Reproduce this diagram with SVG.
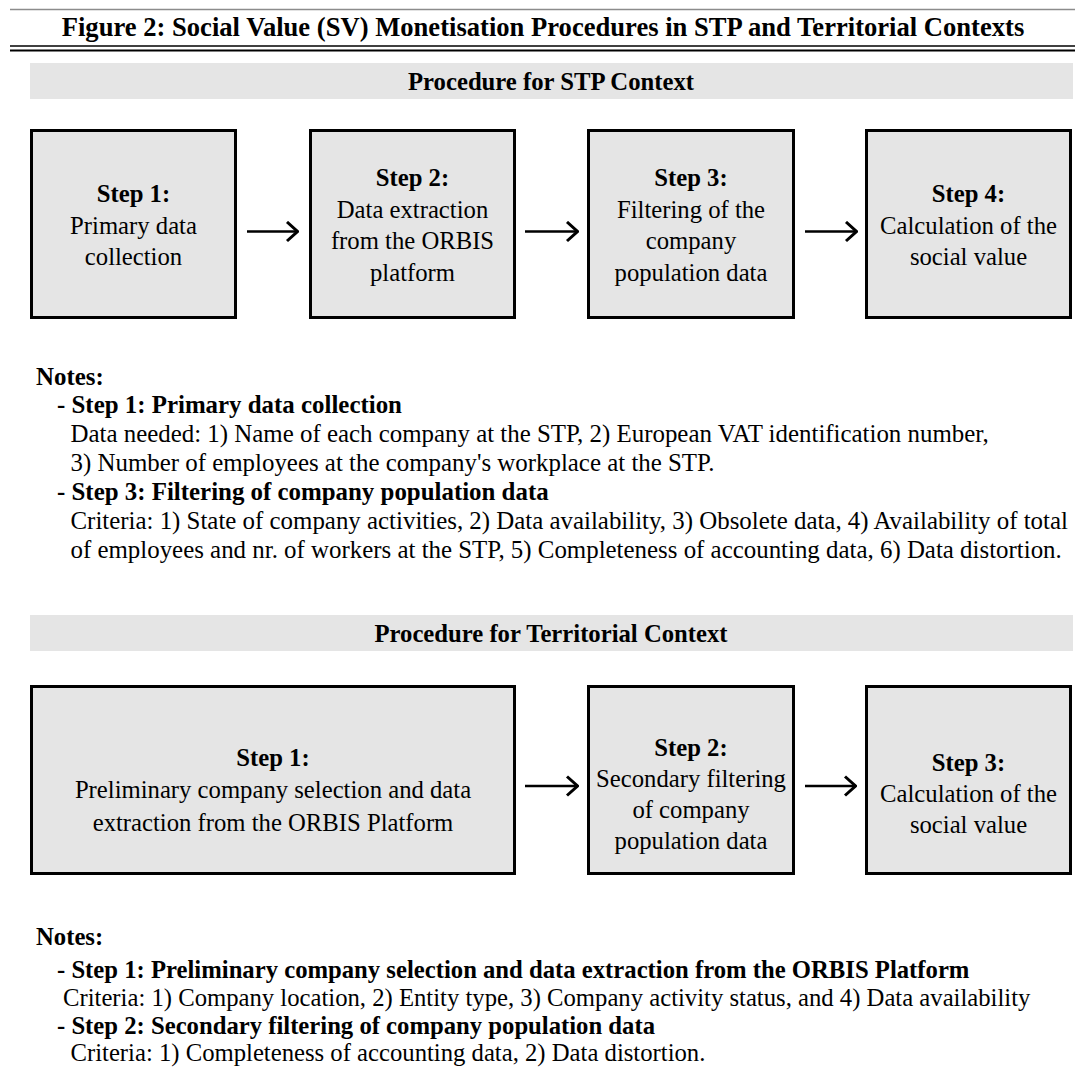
<svg xmlns="http://www.w3.org/2000/svg" width="1081" height="1068" viewBox="0 0 1081 1068">
  <defs>
    <style>
      text { font-family: "Liberation Serif", "Times New Roman", serif; fill: #000; }
      .title { font-size: 26.6px; font-weight: bold; text-anchor: middle; }
      .band-label { font-size: 24.7px; font-weight: bold; text-anchor: middle; }
      .step { font-size: 24.7px; text-anchor: middle; }
      .step .head { font-weight: bold; }
      .note { font-size: 24.9px; }
      .note-b { font-size: 24.9px; font-weight: bold; }
      .note2 { font-size: 24.7px; }
      .note2-b { font-size: 24.7px; font-weight: bold; }
      .band { fill: #e5e5e5; }
      .box { fill: #e5e5e5; stroke: #000; stroke-width: 3; }
      .conn { fill: none; stroke: #000; stroke-width: 2.6; marker-end: url(#chev); }
    </style>
    <marker id="chev" viewBox="0 0 14 22" refX="13" refY="11" markerWidth="14" markerHeight="22" markerUnits="userSpaceOnUse" orient="auto">
      <path d="M2,1.5 L12.5,11 L2,20.5" fill="none" stroke="#000" stroke-width="3"/>
    </marker>
  </defs>

  <!-- figure heading with rules -->
  <g id="heading">
    <line x1="10" y1="9.5" x2="1075" y2="9.5" stroke="#8c8c8c" stroke-width="1.5"/>
    <text class="title" x="543" y="36">Figure 2: Social Value (SV) Monetisation Procedures in STP and Territorial Contexts</text>
    <line x1="10" y1="46" x2="1075" y2="46" stroke="#000" stroke-width="1.5"/>
    <line x1="10" y1="50.5" x2="1075" y2="50.5" stroke="#000" stroke-width="2.2"/>
  </g>

  <!-- STP procedure -->
  <g id="stp-band">
    <rect class="band" x="30" y="63" width="1043" height="36"/>
    <text class="band-label" x="551" y="90">Procedure for STP Context</text>
  </g>

  <g id="stp-step1">
    <rect class="box" x="31.5" y="130.5" width="204" height="187"/>
    <text class="step" x="133.5" y="202"><tspan class="head">Step 1:</tspan><tspan x="133.5" y="233.5">Primary data</tspan><tspan x="133.5" y="265">collection</tspan></text>
  </g>

  <g id="stp-step2">
    <rect class="box" x="310.5" y="130.5" width="204" height="187"/>
    <text class="step" x="412.5" y="186"><tspan class="head">Step 2:</tspan><tspan x="412.5" y="217.5">Data extraction</tspan><tspan x="412.5" y="249">from the ORBIS</tspan><tspan x="412.5" y="280.5">platform</tspan></text>
  </g>

  <g id="stp-step3">
    <rect class="box" x="588.5" y="130.5" width="205" height="187"/>
    <text class="step" x="691" y="186"><tspan class="head">Step 3:</tspan><tspan x="691" y="217.5">Filtering of the</tspan><tspan x="691" y="249">company</tspan><tspan x="691" y="280.5">population data</tspan></text>
  </g>

  <g id="stp-step4">
    <rect class="box" x="866.5" y="130.5" width="204" height="187"/>
    <text class="step" x="968.5" y="202"><tspan class="head">Step 4:</tspan><tspan x="968.5" y="233.5">Calculation of the</tspan><tspan x="968.5" y="265">social value</tspan></text>
  </g>

  <g id="stp-notes">
    <text class="note-b" x="36" y="384.5">Notes:</text>
    <text class="note-b" x="57" y="413">- Step 1: Primary data collection</text>
    <text class="note" x="70.5" y="442">Data needed: 1) Name of each company at the STP, 2) European VAT identification number,</text>
    <text class="note" x="70.5" y="471">3) Number of employees at the company's workplace at the STP.</text>
    <text class="note-b" x="57" y="500">- Step 3: Filtering of company population data</text>
    <text class="note" x="70.5" y="529">Criteria: 1) State of company activities, 2) Data availability, 3) Obsolete data, 4) Availability of total</text>
    <text class="note" x="70.5" y="558">of employees and nr. of workers at the STP, 5) Completeness of accounting data, 6) Data distortion.</text>
  </g>

  <!-- Territorial procedure -->
  <g id="terr-band">
    <rect class="band" x="30" y="615" width="1043" height="36"/>
    <text class="band-label" x="551" y="642">Procedure for Territorial Context</text>
  </g>

  <g id="terr-step1">
    <rect class="box" x="31.5" y="686.5" width="483" height="187"/>
    <text class="step" x="273" y="766"><tspan class="head">Step 1:</tspan><tspan x="273" y="798">Preliminary company selection and data</tspan><tspan x="273" y="831">extraction from the ORBIS Platform</tspan></text>
  </g>

  <g id="terr-step2">
    <rect class="box" x="588.5" y="686.5" width="205" height="187"/>
    <text class="step" x="691" y="756"><tspan class="head">Step 2:</tspan><tspan x="691" y="787">Secondary filtering</tspan><tspan x="691" y="818">of company</tspan><tspan x="691" y="849">population data</tspan></text>
  </g>

  <g id="terr-step3">
    <rect class="box" x="866.5" y="686.5" width="204" height="187"/>
    <text class="step" x="968.5" y="771"><tspan class="head">Step 3:</tspan><tspan x="968.5" y="802">Calculation of the</tspan><tspan x="968.5" y="833">social value</tspan></text>
  </g>

  <g id="terr-notes">
    <text class="note2-b" x="36" y="945">Notes:</text>
    <text class="note2-b" x="57" y="978">- Step 1: Preliminary company selection and data extraction from the ORBIS Platform</text>
    <text class="note2" x="63" y="1006">Criteria: 1) Company location, 2) Entity type, 3) Company activity status, and 4) Data availability</text>
    <text class="note2-b" x="57" y="1034">- Step 2: Secondary filtering of company population data</text>
    <text class="note2" x="70.5" y="1061">Criteria: 1) Completeness of accounting data, 2) Data distortion.</text>
  </g>

  <!-- arrows between steps -->
  <g id="connectors">
    <path class="conn" d="M247,231.5 H298"/>
    <path class="conn" d="M525,231.5 H578"/>
    <path class="conn" d="M805,231.5 H857"/>
    <path class="conn" d="M525,786 H578"/>
    <path class="conn" d="M805,786 H856"/>
  </g>
</svg>
